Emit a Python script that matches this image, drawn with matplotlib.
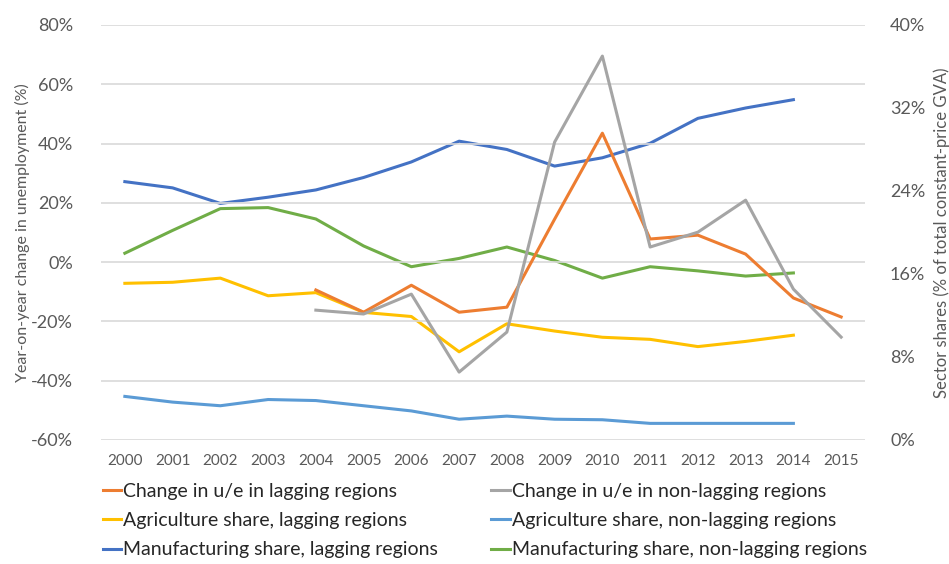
import matplotlib
matplotlib.use("Agg")
import matplotlib.pyplot as plt
import numpy as np
from matplotlib.ticker import FuncFormatter

plt.rcParams["font.family"] = ["Lato", "DejaVu Sans"]

years = list(range(2000, 2016))
nan = np.nan

# year-on-year change in unemployment (%), left axis
ue_lag = [nan, nan, nan, nan, -9.4, -16.9, -7.8, -16.9, -15.2, 14.5, 43.5, 7.8, 9.1, 2.7, -12.1, -18.5]
ue_nonlag = [nan, nan, nan, nan, -16.2, -17.5, -10.8, -37.1, -23.6, 40.5, 69.5, 5.1, 10.1, 20.9, -9.1, -25.3]

# sector shares (% of GVA), right axis
agri_lag = [15.1, 15.2, 15.6, 13.9, 14.2, 12.3, 11.9, 8.5, 11.2, 10.5, 9.9, 9.7, 9.0, 9.5, 10.1, nan]
agri_nonlag = [4.2, 3.65, 3.3, 3.9, 3.8, 3.3, 2.8, 2.0, 2.3, 2.0, 1.95, 1.6, 1.6, 1.6, 1.6, nan]
manu_lag = [24.9, 24.3, 22.8, 23.4, 24.1, 25.3, 26.8, 28.8, 28.0, 26.4, 27.2, 28.6, 31.0, 32.0, 32.8, nan]
manu_nonlag = [18.0, 20.2, 22.3, 22.4, 21.3, 18.7, 16.7, 17.5, 18.6, 17.3, 15.6, 16.7, 16.3, 15.8, 16.1, nan]

ORANGE = "#ED7D31"; GREY = "#A5A5A5"; YELLOW = "#FFC000"
LBLUE = "#5B9BD5"; DBLUE = "#4472C4"; GREEN = "#70AD47"
TXT = "#595959"

x = np.arange(len(years))
fig = plt.figure(figsize=(9.49, 5.64), dpi=100)
ax = fig.add_axes([0.1064, 0.2199, 0.8051, 0.7358])
ax2 = ax.twinx()

lw = 2.2
l_ue1, = ax.plot(x, ue_lag, color=ORANGE, lw=lw, label="Change in u/e in lagging regions")
l_ue2, = ax.plot(x, ue_nonlag, color=GREY, lw=lw, label="Change in u/e in non-lagging regions")
l_a1, = ax2.plot(x, agri_lag, color=YELLOW, lw=lw, label="Agriculture share, lagging regions")
l_a2, = ax2.plot(x, agri_nonlag, color=LBLUE, lw=lw, label="Agriculture share, non-lagging regions")
l_m1, = ax2.plot(x, manu_lag, color=DBLUE, lw=lw, label="Manufacturing share, lagging regions")
l_m2, = ax2.plot(x, manu_nonlag, color=GREEN, lw=lw, label="Manufacturing share, non-lagging regions")
# draw u/e lines on top like the original
ax.set_zorder(ax2.get_zorder() + 1); ax.patch.set_visible(False)

ax.set_xlim(-0.5, len(years) - 0.5)
ax.set_ylim(-60, 80)
ax.set_yticks(range(-60, 81, 20))
ax.yaxis.set_major_formatter(FuncFormatter(lambda v, p: f"{v:.0f}%"))
ax2.set_ylim(0, 40)
ax2.set_yticks(range(0, 41, 8))
ax2.yaxis.set_major_formatter(FuncFormatter(lambda v, p: f"{v:.0f}%"))
ax.set_xticks(x)
ax.set_xticklabels([str(y) for y in years], fontsize=11, color=TXT)

ax.grid(axis="y", color="#D9D9D9", lw=1.2)
ax.set_axisbelow(True)
for a in (ax, ax2):
    for s in a.spines.values():
        s.set_visible(False)
    a.tick_params(length=0, colors=TXT)
ax.tick_params(axis="y", labelsize=13, pad=20)
ax.tick_params(axis="x", pad=10)
ax2.tick_params(axis="y", labelsize=13, pad=18)

ax.set_ylabel("Year-on-year change in unemployment (%)", fontsize=11.5, color=TXT, labelpad=1)
ax2.set_ylabel("Sector shares (% of total constant-price GVA)", fontsize=12, color=TXT, labelpad=6)

handles = [l_ue1, l_a1, l_m1, l_ue2, l_a2, l_m2]
fig.legend(handles=handles, labels=[h.get_label() for h in handles], ncol=2,
           loc="upper left", bbox_to_anchor=(0.1, 0.157), frameon=False,
           fontsize=14, handlelength=0.95, handletextpad=0.1, columnspacing=2.75,
           labelspacing=0.62, labelcolor="#262626", borderaxespad=0)

fig.savefig("out.png", dpi=100)
